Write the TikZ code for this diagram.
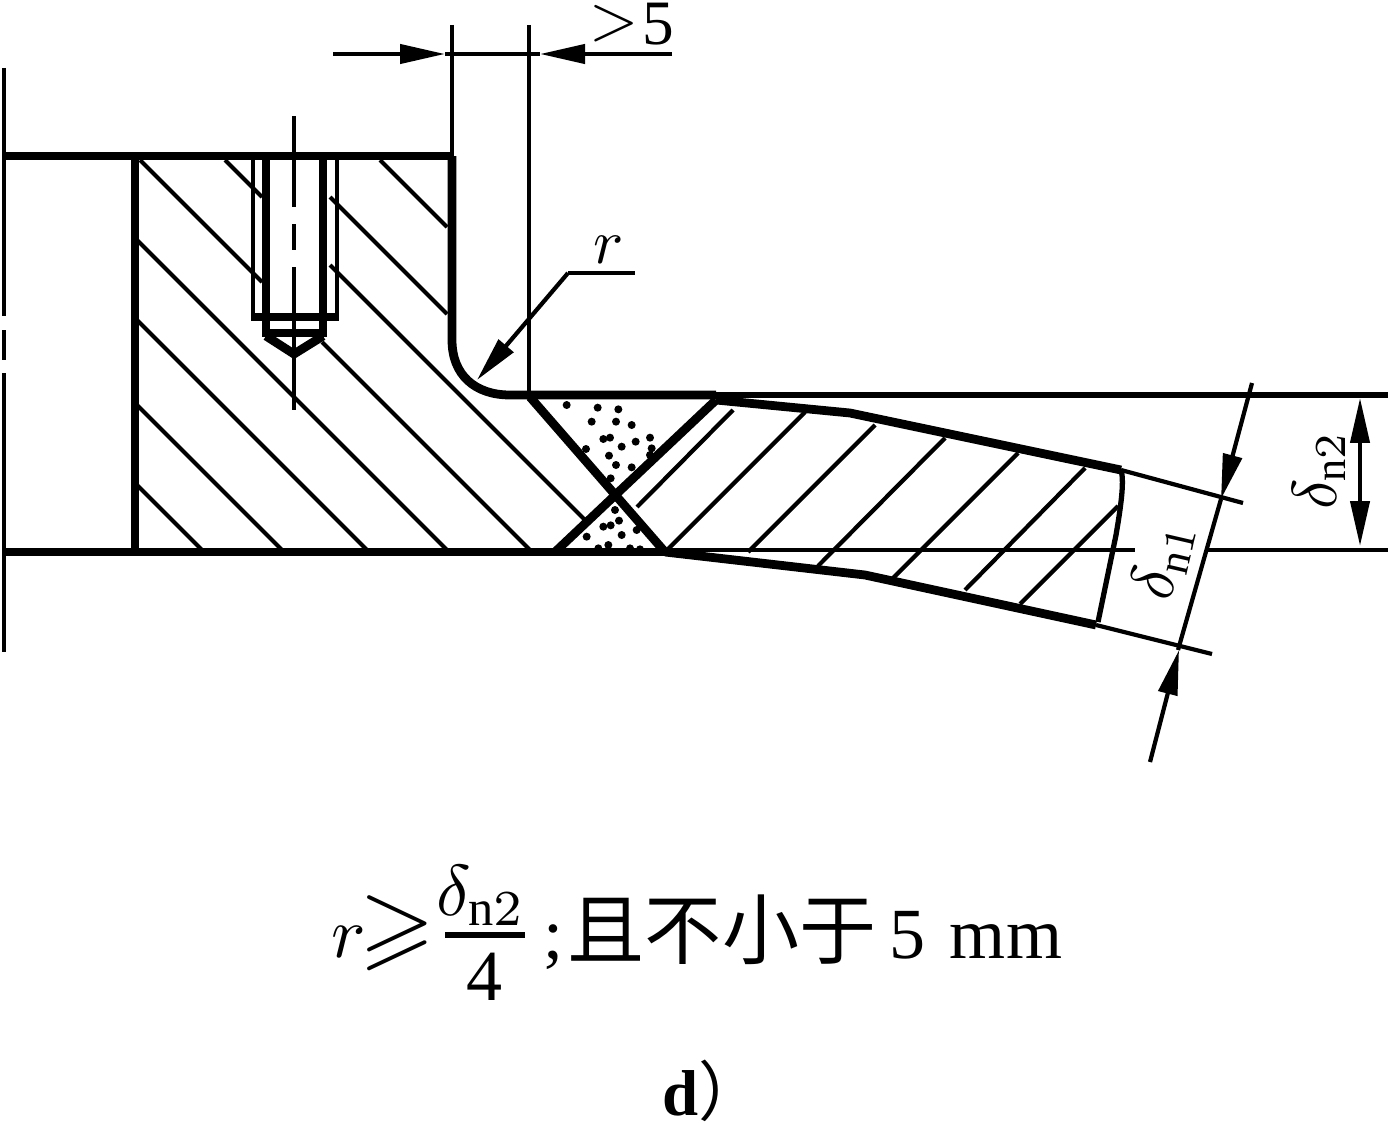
\documentclass[tikz,border=0pt]{standalone}
\usepackage{amssymb}
\usepackage{fontspec}
\setmainfont{Liberation Serif}
\newfontfamily\cjk{Noto Sans CJK SC}
\usetikzlibrary{arrows.meta}
\tikzset{
  thickline/.style={line width=5pt},
  midline/.style={line width=3pt},
  thinline/.style={line width=2.4pt},
  dimarrow/.style={line width=2.4pt,-{Triangle[length=.9cm,width=.38cm]}},
  label/.style={inner sep=0pt,scale=3.6},
  caption/.style={inner sep=0pt,scale=4.1,anchor=base},
}
\begin{document}
\begin{tikzpicture}[x=.02cm,y=-.02cm]
	\useasboundingbox (0,0) rectangle (1388,1122);
	% points of the outline
	\coordinate (TL) at (3,156);
	\coordinate (TR) at (452,156);
	\coordinate (BL) at (3,552);
	\coordinate (BR) at (665,552);
	\coordinate (SecT) at (135,156);
	\coordinate (SecB) at (135,552);
	\coordinate (RootL) at (530,397);
	\coordinate (RootR) at (716,400);
	\coordinate (RootB) at (555,552);
	\coordinate (PlateT) at (1121,470);
	\coordinate (PlateB) at (1096,625);
	\coordinate (EndT) at (1243,503);
	\coordinate (EndB) at (1212,654);
	% hatching of the flange
	\draw[thinline] (225,160) -- (262,197);
	\draw[thinline] (330,265) -- (585,520);
	\draw[thinline] (380,160) -- (447,227);
	\draw[thinline] (330,197) -- (447,314);
	\draw[thinline] (140,160) -- (262,282);
	\draw[thinline] (322,342) -- (530,550);
	\draw[thinline] (137,240) -- (447,550);
	\draw[thinline] (137,320) -- (367,550);
	\draw[thinline] (137,405) -- (282,550);
	\draw[thinline] (137,485) -- (205,553);
	% hatching of the plate
	\draw[thinline] (637,507) -- (733,410);
	\draw[thinline] (668,549) -- (805,412);
	\draw[thinline] (748,552) -- (875,425);
	\draw[thinline] (818,566) -- (945,438);
	\draw[thinline] (893,578) -- (1018,453);
	\draw[thinline] (965,590) -- (1085,468);
	\draw[thinline] (1020,604) -- (1118,506);
	% weld filler
	\foreach \u/\v in {380/105,473/113,535/118,455/155,528/155,575/165,490/207,510/203,587/215,630/203,545/230,635/235,438/237,507/257,528/285,575/292,512/325,630/255,525/420,537/452,490/470,512/466,545/495,440/500,505/525,475/535,570/535,600/538,590/480}
		\fill ({440+\u/3},{370+\v/3}) circle (4);
	% outline
	\draw[thickline] (TL) -- (TR);
	\draw[thickline] (BL) -- (BR);
	\draw[thickline] (SecT) -- (SecB);
	\draw[thickline] (RootL) -- (BR);
	\draw[thickline] (RootR) -- (RootB);
	\draw[thickline] (TR) -- (452,340) .. controls (452,375) and (475,395) .. (510,395) -- (716,395);
	\draw[midline] (716,395) -- (1388,395);
	\draw[thickline] (RootR) -- (850,413) -- (PlateT);
	\draw[thickline] (BR) -- (865,575) -- (PlateB);
	\draw[thinline] (PlateT) -- (EndT);
	\draw[thinline] (PlateB) -- (EndB);
	\draw[midline] (PlateT) .. controls (1124,480) and (1122,500) .. (1116,535) -- (1098,622);
	\draw[thinline] (665,550) -- (1135,550);
	\draw[thinline] (1208,550) -- (1388,550);
	% left edge
	\draw[thinline] (4,68) -- (4,316);
	\draw[thinline] (4,330) -- (4,360);
	\draw[thinline] (4,373) -- (4,652);
	% tapped hole
	\draw[thinline] (253,160) -- (253,316);
	\draw[thinline] (337,160) -- (337,316);
	\draw[thickline] (266,160) -- (266,316);
	\draw[thickline] (323,160) -- (323,316);
	\draw[thickline] (251,317) -- (339,317);
	\draw[thickline] (266,317) -- (266,333) -- (323,333) -- (323,317);
	\draw[thickline] (266,336) -- (294,354) -- (323,336);
	\draw[thinline] (294,116) -- (294,207);
	\draw[thinline] (294,224) -- (294,250);
	\draw[thinline] (294,267) -- (294,410);
	% dimension >5
	\draw[thinline] (452,25) -- (TR);
	\draw[thinline] (529,25) -- (529,395);
	\draw[dimarrow] (333,54) -- (445,54);
	\draw[dimarrow] (672,54) -- (540,54);
	\draw[thinline] (445,54) -- (540,54);
	\node[label] (more) at (614,24) {$>$};
	\node[label] (five) at (658,24) {5};
	% radius leader
	\draw[dimarrow] (568,273) -- (477,380);
	\draw[thinline] (568,273) -- (635,273);
	\node[label] (rad) at (609,250) {$r$};
	% dimension of the plate
	\draw[dimarrow] (1252,383) -- (1221,499);
	\draw[thinline] (1221,499) -- (1178,650);
	\draw[dimarrow] (1150,762) -- (1179,650);
	\node[label,rotate=77] (dnone) at (1163,560) {$\delta_{\mathrm{n}1}$};
	% dimension of the step
	\draw[dimarrow] (1360,470) -- (1360,398);
	\draw[dimarrow] (1360,470) -- (1360,546);
	\node[label,rotate=90] (dntwo) at (1319,470) {$\delta_{\mathrm{n}2}$};
	% condition under the drawing
	\node[caption] (rule) at (349,957) {$r$};
	\node[caption,scale=1.35] (geq) at (397,957) {$\geqslant$};
	\node[caption] (dnthree) at (481,915) {$\delta_{\mathrm{n}2}$};
	\draw[midline] (445,935) -- (525,935);
	\node[caption] (quarter) at (485,1000) {4};
	\node[caption] (semi) at (553,958) {;};
	\node[caption,scale=1.07] (words) at (722,958) {\cjk 且不小于};
	\node[caption] (numb) at (907,958) {5};
	\node[caption] (unit) at (1006,958) {mm};
	\node[caption,scale=.9] (part) at (713,1115) {\bfseries d\normalfont\cjk ）};
\end{tikzpicture}
\end{document}
